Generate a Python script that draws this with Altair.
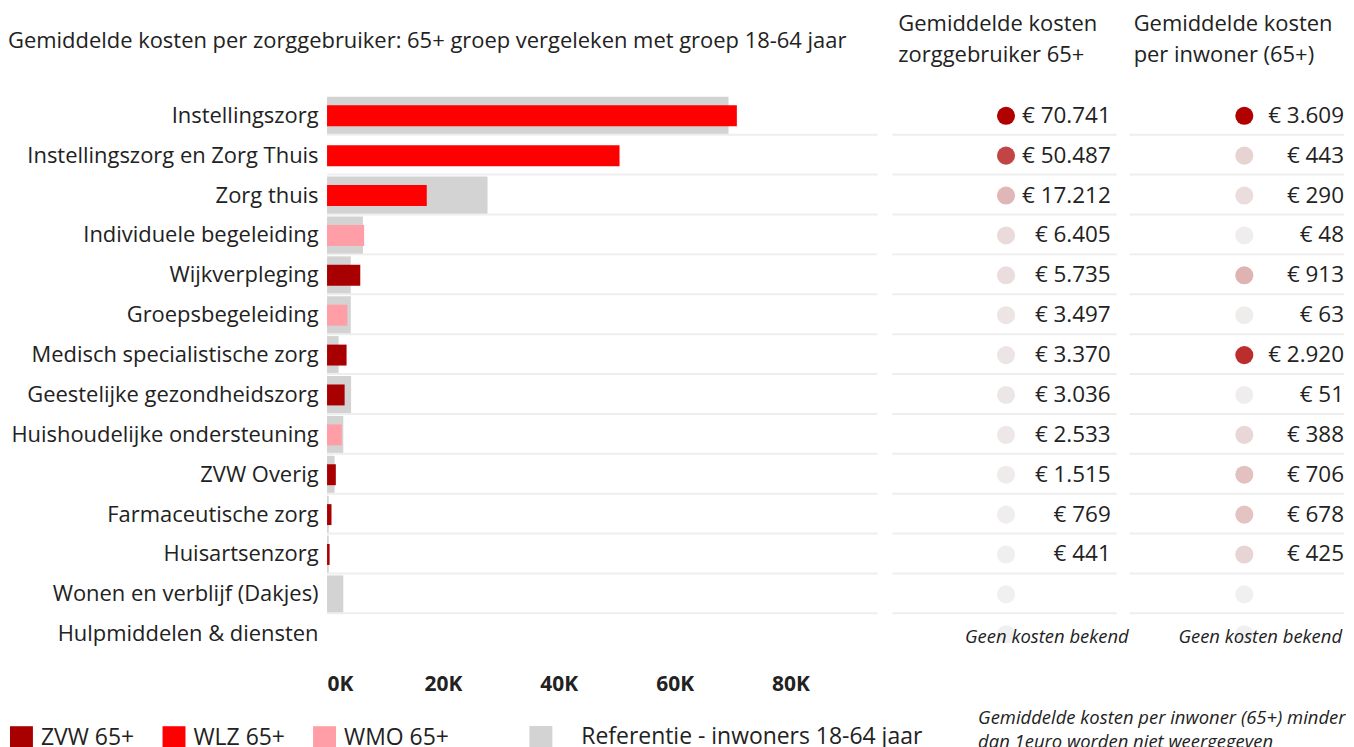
import altair as alt
import pandas as pd

categories = [
    "Instellingszorg", "Instellingszorg en Zorg Thuis", "Zorg thuis",
    "Individuele begeleiding", "Wijkverpleging", "Groepsbegeleiding",
    "Medisch specialistische zorg", "Geestelijke gezondheidszorg",
    "Huishoudelijke ondersteuning", "ZVW Overig", "Farmaceutische zorg",
    "Huisartsenzorg", "Wonen en verblijf (Dakjes)", "Hulpmiddelen & diensten",
]
domein = ["WLZ 65+", "WLZ 65+", "WLZ 65+", "WMO 65+", "ZVW 65+", "WMO 65+",
          "ZVW 65+", "ZVW 65+", "WMO 65+", "ZVW 65+", "ZVW 65+", "ZVW 65+",
          None, None]
kosten_65 = [70741, 50487, 17212, 6405, 5735, 3497, 3370, 3036, 2533, 1515,
             769, 441, None, None]
ref_1864 = [69300, 0, 27700, 6200, 4100, 4100, 2000, 4150, 2800, 1300, 300,
            300, 2800, 0]
per_inwoner = [3609, 443, 290, 48, 913, 63, 2920, 51, 388, 706, 678, 425,
               None, None]
tick_values = [0, 20000, 40000, 60000, 80000]
series_domain = ["ZVW 65+", "WLZ 65+", "WMO 65+"]
series_colors = ["#A80000", "#FF0000", "#FF9EA6"]
ref_name = "Referentie - inwoners 18-64 jaar"
note_text = "Geen kosten bekend"
footnote = "Gemiddelde kosten per inwoner (65+) minder\ndan 1euro worden niet weergegeven"


def euro(v):
    return "" if v is None else "€ " + f"{v:,}".replace(",", ".")


df = pd.DataFrame({
    "cat": categories,
    "domein": domein,
    "k65": kosten_65,
    "ref": ref_1864,
    "inw": per_inwoner,
    "k65_label": [euro(v) for v in kosten_65],
    "inw_label": [euro(v) for v in per_inwoner],
})
notes = pd.DataFrame({"cat": [categories[-1]], "note": [note_text]})
foot = pd.DataFrame({"t": [footnote]})

FONT = "Open Sans"
TXT = "#222222"
SEP = "#EEEEEE"
W_A, W_B, W_C, H = 552, 225, 217, 560

yscale = alt.Scale(domain=categories, paddingInner=0, paddingOuter=0)
yaxis = alt.Axis(title=None, labelFontSize=22, labelFont=FONT, labelColor=TXT,
                 ticks=False, domain=False, labelPadding=9, labelLimit=0,
                 grid=False)
xscale = alt.Scale(domain=[0, 95000], nice=False)
xaxis = alt.Axis(title=None, values=tick_values,
                 labelExpr="datum.value / 1000 + 'K'", labelFontSize=21,
                 labelFontWeight="bold", labelFont=FONT, labelColor=TXT,
                 ticks=False, domain=False, grid=False, labelPadding=19,
                 labelFlush=True)


def Y(axis=None, **kw):
    return alt.Y("cat:N", sort=categories, scale=yscale, axis=axis, **kw)


base = alt.Chart(df)

ref_bars = base.transform_filter("datum.ref > 0").transform_calculate(
    serie=f"'{ref_name}'"
).mark_bar(size=38).encode(
    y=Y(yaxis),
    x=alt.X("ref:Q", scale=xscale, axis=xaxis),
    fill=alt.Fill("serie:N", scale=alt.Scale(domain=[ref_name], range=["#D3D3D3"]),
                  legend=alt.Legend(title=None, orient="none", legendX=203,
                                    legendY=632, symbolType="square",
                                    symbolSize=529, symbolStrokeWidth=0,
                                    labelFontSize=23, labelFont=FONT,
                                    labelColor=TXT, labelOffset=29,
                                    labelLimit=0, padding=0)),
)

bars65 = base.transform_filter("datum.k65 != null").mark_bar(size=21).encode(
    y=Y(yaxis),
    x=alt.X("k65:Q", scale=xscale, axis=xaxis),
    color=alt.Color("domein:N",
                    scale=alt.Scale(domain=series_domain, range=series_colors),
                    legend=alt.Legend(title=None, orient="none", legendX=-318,
                                      legendY=632, direction="horizontal",
                                      symbolType="square", symbolSize=529,
                                      symbolStrokeWidth=0, labelFontSize=23,
                                      labelFont=FONT, labelColor=TXT,
                                      labelOffset=8, columnPadding=28,
                                      labelLimit=0, padding=0)),
)


def separators(x0, x1, axis=None):
    return base.transform_filter(
        alt.datum.cat != categories[-1]
    ).mark_rule(color=SEP, strokeWidth=2, yOffset=-1).encode(
        y=Y(axis, bandPosition=1),
        x=alt.value(x0), x2=alt.value(x1),
    )


panel_a = alt.layer(ref_bars, bars65, separators(0, W_A, yaxis)).properties(
    width=W_A, height=H,
    title=alt.Title("Gemiddelde kosten per zorggebruiker: 65+ groep vergeleken met groep 18-64 jaar",
                    anchor="start", frame="group", dx=-320, offset=43,
                    fontSize=22, fontWeight="normal", font=FONT, color=TXT),
)


def table_panel(value_field, label_field, title_lines, width, sep, dot_x,
                text_x, note_x, title_dx, extra=None):
    dots = base.transform_calculate(
        cv=f"datum.{value_field} == null ? 0 : datum.{value_field}"
    ).mark_circle(size=330, opacity=1).encode(
        y=Y(),
        x=alt.value(dot_x),
        color=alt.Color("cv:Q", scale=alt.Scale(range=["#F0F0F0", "#B00000"],
                                                interpolate="rgb"),
                        legend=None),
    )
    texts = base.transform_filter(f"datum.{value_field} != null").mark_text(
        align="right", baseline="middle", fontSize=22.5, font=FONT, color=TXT
    ).encode(y=Y(), x=alt.value(text_x), text=f"{label_field}:N")
    note = alt.Chart(notes).mark_text(
        align="center", baseline="middle", fontSize=18.5, font=FONT,
        fontStyle="italic", color=TXT, dy=3
    ).encode(y=Y(), x=alt.value(note_x), text="note:N")
    layers = [separators(*sep), dots, texts, note]
    if extra is not None:
        layers.append(extra)
    return alt.layer(*layers).properties(
        width=width, height=H,
        title=alt.Title(title_lines, anchor="start", frame="group", dx=title_dx,
                        offset=28.5, lineHeight=32, fontSize=22,
                        fontWeight="normal", font=FONT, color=TXT),
    )


foot_mark = alt.Chart(foot).mark_text(
    align="left", baseline="top", fontSize=18.5, font=FONT, fontStyle="italic",
    color=TXT, lineBreak="\n", lineHeight=24
).encode(x=alt.value(-148), y=alt.value(615), text="t:N")

panel_b = table_panel("k65", "k65_label", ["Gemiddelde kosten", "zorggebruiker 65+"],
                      W_B, (3, 228), 117, 222, 158, 9)
panel_c = table_panel("inw", "inw_label", ["Gemiddelde kosten", "per inwoner (65+)"],
                      W_C, (4, 219), 119, 219, 135, 8, foot_mark)

chart = alt.hconcat(panel_a, panel_b, panel_c, spacing=12, bounds="flush").resolve_scale(
    color="independent"
).configure_view(stroke=None).properties(
    padding={"left": 0, "top": 3, "right": 0, "bottom": 0}
)

chart.save("out.html", embed_options={"renderer": "svg", "actions": False})
